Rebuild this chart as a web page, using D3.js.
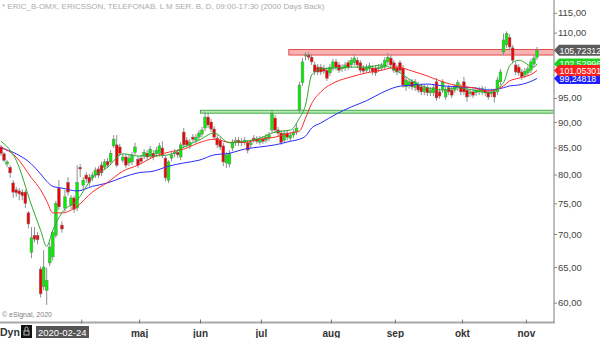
<!DOCTYPE html>
<html>
<head>
<meta charset="utf-8">
<script src="https://cdn.jsdelivr.net/npm/d3@7"></script>
<style>
  body { margin: 0; background: #fff; }
  svg { display: block; font-family: Arial, "Liberation Sans", sans-serif; }
</style>
</head>
<body>
<svg id="chart" width="600" height="338"></svg>
<script>
// daily candles, ERIC B
const opens = [
  85.1, 83.8, 81.9, 81.3, 78.5, 77.3, 77.1, 76.9, 76.9, 73.4,
  67.2, 69.8, 69.8, 64.7, 62.2, 61.7, 65.6, 66.5, 69.8, 77.6,
  71.4, 74.2, 78.6, 74.7, 75.9, 74.2, 81.3, 78.1, 79.9, 79.5,
  79.4, 79.9, 81.0, 81.7, 81.3, 82.4, 82.3, 85.3, 85.5, 85.1,
  82.6, 83.2, 82.1, 82.3, 84.1, 82.8, 83.0, 83.4, 83.9, 83.4,
  83.9, 83.8, 83.9, 84.9, 83.0, 79.0, 83.0, 83.8, 84.1, 83.2,
  88.0, 86.4, 85.3, 87.0, 86.4, 87.0, 87.6, 88.8, 91.0, 90.0,
  88.6, 86.8, 86.4, 85.3, 82.1, 81.9, 84.9, 85.9, 86.4, 86.2,
  86.0, 85.9, 85.5, 86.8, 86.6, 86.0, 86.6, 86.4, 86.8, 88.4,
  90.8, 88.4, 87.8, 86.4, 87.8, 86.8, 87.4, 88.0, 92.5, 98.3,
  104.4, 104.6, 104.1, 102.3, 101.8, 101.8, 101.6, 101.1, 100.5, 101.6,
  103.0, 102.3, 101.4, 101.6, 102.8, 102.3, 102.8, 103.4, 102.8, 101.6,
  101.1, 101.4, 101.6, 101.6, 101.4, 101.6, 101.8, 103.0, 103.9, 102.8,
  101.6, 102.8, 101.6, 97.4, 97.6, 98.5, 97.2, 97.8, 97.4, 96.3,
  97.2, 96.1, 96.1, 98.5, 96.3, 96.7, 95.2, 97.2, 96.7, 96.7,
  97.2, 97.4, 98.5, 96.7, 95.9, 96.3, 96.1, 96.3, 96.3, 96.7,
  96.3, 95.9, 96.3, 96.3, 98.5, 105.3, 107.0, 108.8, 106.3, 102.3,
  101.8, 100.7, 100.0, 100.5, 101.1, 102.5, 104.1
];
const highs = [
  85.5, 84.1, 82.6, 81.7, 79.0, 77.8, 77.6, 77.4, 77.3, 73.7,
  71.1, 71.1, 70.3, 65.1, 67.5, 64.9, 68.7, 70.6, 75.4, 79.0,
  72.0, 77.3, 79.5, 76.4, 76.3, 81.7, 81.9, 79.5, 80.4, 80.1,
  80.4, 81.3, 81.5, 82.3, 82.8, 83.0, 84.5, 87.4, 87.4, 85.7,
  83.8, 83.8, 83.6, 84.1, 85.9, 83.4, 83.6, 84.7, 84.5, 85.3,
  84.5, 85.1, 85.9, 86.2, 83.4, 82.6, 84.1, 84.7, 84.7, 86.0,
  88.8, 87.0, 86.6, 87.6, 87.6, 88.4, 89.0, 92.1, 91.8, 90.6,
  89.2, 87.4, 87.0, 85.9, 84.1, 84.5, 86.6, 87.0, 87.0, 86.8,
  87.0, 86.4, 86.4, 87.4, 87.2, 87.2, 87.2, 87.6, 88.0, 92.5,
  91.4, 89.0, 88.4, 88.4, 88.4, 88.0, 88.6, 89.6, 98.5, 103.9,
  105.3, 105.3, 104.8, 103.0, 102.5, 102.5, 102.3, 101.8, 102.5, 103.7,
  103.7, 103.0, 102.5, 103.0, 103.4, 104.1, 104.6, 104.1, 103.4, 102.3,
  102.5, 102.8, 102.3, 102.3, 102.5, 102.8, 104.1, 105.1, 104.6, 103.4,
  102.3, 103.4, 102.3, 99.6, 99.1, 99.1, 99.1, 98.5, 98.0, 97.8,
  97.8, 97.4, 97.8, 99.3, 97.0, 99.1, 97.4, 97.8, 97.4, 98.0,
  98.9, 98.0, 99.6, 97.4, 97.0, 97.0, 97.4, 97.4, 97.6, 97.4,
  97.0, 97.0, 97.0, 99.6, 101.4, 109.8, 110.3, 109.6, 107.0, 103.0,
  102.5, 101.4, 101.6, 102.1, 103.7, 104.6, 106.5
];
const lows = [
  83.4, 82.3, 81.3, 79.4, 75.9, 76.1, 75.5, 75.5, 74.2, 70.9,
  66.3, 68.7, 68.4, 60.7, 61.7, 59.7, 65.1, 66.0, 69.4, 73.9,
  70.2, 73.6, 76.3, 74.0, 73.4, 73.7, 79.5, 77.4, 78.5, 77.9,
  78.8, 79.4, 79.4, 79.7, 80.8, 81.2, 81.7, 84.9, 81.3, 83.4,
  82.1, 81.2, 81.5, 81.7, 83.6, 81.2, 81.9, 82.8, 82.6, 82.8,
  82.6, 83.2, 83.4, 83.0, 78.8, 78.5, 82.4, 83.2, 83.0, 82.6,
  84.9, 84.9, 84.7, 86.0, 85.9, 86.4, 87.0, 88.2, 88.8, 88.0,
  86.4, 84.9, 84.5, 81.5, 81.2, 81.3, 84.3, 85.3, 85.3, 85.3,
  85.5, 83.9, 84.9, 85.9, 85.7, 85.5, 85.7, 85.9, 86.2, 87.8,
  87.8, 87.2, 85.5, 85.9, 86.4, 86.2, 86.8, 87.4, 91.8, 97.6,
  103.4, 103.4, 102.3, 100.0, 100.0, 100.0, 100.2, 98.7, 99.8, 100.9,
  101.1, 100.5, 100.7, 100.9, 101.1, 101.6, 102.1, 101.6, 100.5, 100.2,
  100.5, 100.7, 100.0, 99.8, 100.7, 100.9, 101.1, 102.3, 101.6, 100.5,
  100.0, 100.5, 97.2, 96.5, 97.0, 96.7, 96.5, 96.1, 95.6, 95.6,
  95.4, 95.4, 95.4, 94.4, 94.8, 96.1, 94.6, 95.6, 95.0, 96.1,
  96.5, 95.6, 95.6, 94.2, 95.2, 95.0, 95.4, 95.6, 95.6, 95.4,
  94.6, 95.2, 94.0, 95.6, 97.8, 104.6, 106.3, 105.8, 102.8, 100.0,
  99.8, 98.9, 99.3, 99.8, 100.5, 101.8, 103.4
];
const closes = [
  83.9, 82.6, 82.3, 80.3, 76.9, 76.8, 76.6, 76.3, 75.0, 71.6,
  69.4, 69.2, 69.1, 61.2, 65.0, 63.1, 68.0, 70.2, 75.0, 74.4,
  70.8, 76.1, 76.9, 75.9, 74.0, 78.6, 81.0, 79.0, 79.2, 78.6,
  79.9, 80.8, 79.9, 80.3, 82.3, 81.7, 83.9, 86.6, 81.7, 83.9,
  83.2, 81.7, 83.0, 83.6, 85.1, 81.7, 82.4, 84.1, 83.2, 84.7,
  83.2, 84.5, 85.3, 83.6, 79.4, 82.3, 83.6, 84.1, 83.6, 85.5,
  85.5, 85.5, 86.0, 86.6, 87.0, 87.8, 88.4, 91.0, 89.4, 88.6,
  87.0, 85.5, 85.1, 82.3, 83.6, 83.9, 86.0, 86.4, 85.9, 85.9,
  86.4, 84.5, 85.9, 86.4, 86.2, 86.6, 86.2, 87.0, 87.4, 91.8,
  88.4, 87.8, 86.0, 87.8, 87.0, 87.4, 88.0, 88.8, 97.8, 103.0,
  104.6, 104.1, 103.0, 100.7, 100.7, 100.7, 100.9, 99.3, 101.8, 103.0,
  101.8, 101.1, 101.8, 102.3, 101.8, 103.4, 103.9, 102.3, 101.1, 100.9,
  101.8, 102.1, 100.7, 100.5, 101.8, 102.1, 103.4, 104.1, 102.3, 101.1,
  100.7, 101.1, 97.8, 98.9, 98.5, 97.4, 98.5, 96.7, 96.3, 97.2,
  96.1, 96.7, 97.2, 95.0, 95.4, 98.5, 96.7, 96.3, 95.6, 97.4,
  98.3, 96.3, 96.3, 95.2, 96.3, 95.6, 96.7, 96.7, 97.0, 96.1,
  95.2, 96.3, 95.2, 98.9, 100.7, 108.2, 109.8, 106.5, 103.4, 100.7,
  100.5, 99.6, 100.9, 101.4, 103.0, 103.9, 105.72312
];

// moving averages, sampled at these bar indices
const maIdx = [0, 5, 10, 13, 15, 17, 20, 25, 30, 35, 40, 45, 50, 55, 60, 65, 70, 75, 80, 85, 90, 95,
  98, 100, 102, 105, 110, 115, 120, 125, 130, 135, 140, 145, 150, 155, 160, 165, 167, 170, 175, 176];
const maFast = [86.2, 82.6, 74.7, 70.6, 68.1, 70.6, 73.4, 75.5, 79.4, 81.3, 83.8, 83.4, 83.4, 83.6, 85.1, 86.4,
  87.8, 85.9, 86.2, 86.8, 88.0, 88.4, 90.8, 93.5, 100.0, 101.4, 101.6, 101.8, 101.8, 102.3, 100.9, 98.7,
  97.2, 96.7, 97.2, 96.7, 96.1, 98.3, 102.1, 103.4, 101.8, 102.52996];
const maMid = [85.1, 83.2, 79.4, 77.3, 75.4, 73.4, 73.4, 74.5, 76.9, 78.6, 80.6, 81.7, 83.2, 84.1, 84.7, 85.9,
  86.6, 86.0, 86.0, 86.6, 87.0, 87.8, 88.2, 90.8, 93.8, 96.3, 98.5, 99.6, 100.5, 101.1, 101.8, 100.9,
  99.8, 98.5, 97.6, 97.2, 96.5, 97.6, 98.7, 99.3, 100.5, 101.05301];
const maSlow = [84.9, 83.8, 81.9, 80.1, 78.8, 77.9, 77.6, 77.1, 77.9, 78.5, 79.5, 80.3, 80.6, 81.5, 82.1, 82.6,
  83.6, 83.9, 84.7, 85.1, 85.5, 86.2, 86.6, 87.2, 88.8, 89.8, 91.6, 93.1, 94.4, 96.1, 97.4, 97.8,
  98.0, 97.6, 97.4, 97.2, 96.7, 97.2, 97.6, 97.8, 98.9, 99.24818];

// 100 and 105 are covered by the value tags in the reference
const priceTicks = [60, 65, 70, 75, 80, 85, 90, 95, 110, 115];
// "apr" sits under the date box, so only its tick is drawn
const tickIdx = [27, 46, 66, 86, 109, 130, 152, 173];
const months = ["maj", "jun", "jul", "aug", "sep", "okt", "nov"];
const monthIdx = [46, 66, 86, 109, 130, 152, 173];

// drawn support / resistance zones
const supportBand = [91.8, 92.4];
const supportFrom = 66;
const resistBand = [104.6, 105.9];
const resistFrom = 95;

const title = "* ERIC_B-OMX, ERICSSON, TELEFONAB. L M SER. B, D, 09:00-17:30 (2000 Days Back)";

const svg = d3.select("#chart");
const N = closes.length;
const axisX = 554, axisY = 322.5;

const x = d3.scaleLinear().domain([0, N - 1]).range([1, 537]);
const y = d3.scaleLog().domain([60, 115]).range([302.7, 12.8]);

svg.append("defs").append("clipPath").attr("id", "plot")
  .append("rect").attr("x", 0).attr("y", 0).attr("width", axisX).attr("height", axisY - 1);

const plot = svg.append("g").attr("clip-path", "url(#plot)");

// zones
function band(vals, from, fill, stroke) {
  plot.append("rect")
    .attr("x", x(from) - 1.5)
    .attr("y", y(vals[1]))
    .attr("width", axisX - x(from) + 1.5)
    .attr("height", y(vals[0]) - y(vals[1]))
    .attr("fill", fill)
    .attr("stroke", stroke)
    .attr("stroke-width", 1);
}
band(supportBand, supportFrom, "#bde8bd", "#3cb043");
band(resistBand, resistFrom, "#f7b3b3", "#e34b4b");

// candles
const candle = plot.append("g").selectAll("g")
  .data(d3.range(N))
  .join("g");

candle.append("line")
  .attr("x1", i => x(i)).attr("x2", i => x(i))
  .attr("y1", i => y(highs[i])).attr("y2", i => y(lows[i]))
  .attr("stroke", "#8f8f8f").attr("stroke-width", 1);

candle.append("rect")
  .attr("x", i => x(i) - 1.4)
  .attr("width", 2.8)
  .attr("y", i => y(Math.max(opens[i], closes[i])))
  .attr("height", i => Math.max(1, Math.abs(y(opens[i]) - y(closes[i]))))
  .attr("fill", i => closes[i] >= opens[i] ? "#00f000" : "#f00000")
  .attr("stroke", "#7d7d7d")
  .attr("stroke-width", 0.5);

// moving averages
const maLine = d3.line()
  .x((d, k) => x(maIdx[k]))
  .y(d => y(d))
  .curve(d3.curveMonotoneX);

[[maSlow, "#2b2bff"], [maMid, "#ff2a2a"], [maFast, "#2ea82e"]].forEach(([vals, col]) => {
  plot.append("path")
    .attr("d", maLine(vals))
    .attr("fill", "none")
    .attr("stroke", col)
    .attr("stroke-width", 1);
});

// axes frame
svg.append("line").attr("x1", 0).attr("x2", axisX + 1).attr("y1", axisY).attr("y2", axisY)
  .attr("stroke", "#a8a8a8").attr("stroke-width", 2);
svg.append("line").attr("x1", axisX).attr("x2", axisX).attr("y1", 0).attr("y2", axisY)
  .attr("stroke", "#a8a8a8").attr("stroke-width", 1.5);

// price axis
const yAxis = svg.append("g")
  .attr("transform", `translate(${axisX},0)`)
  .call(d3.axisRight(y).tickValues(priceTicks).tickSize(3).tickPadding(1)
    .tickFormat(d => d.toFixed(2).replace(".", ",")));
yAxis.select(".domain").remove();
yAxis.selectAll(".tick line").attr("stroke", "#888");
yAxis.selectAll(".tick text").attr("fill", "#444").attr("font-size", 9.5)
  .attr("font-family", "Arial, 'Liberation Sans', sans-serif");

// month axis
const mAxis = svg.append("g");
mAxis.selectAll("line").data(tickIdx).join("line")
  .attr("x1", d => x(d) - 1.5).attr("x2", d => x(d) - 1.5)
  .attr("y1", axisY - 3).attr("y2", axisY + 1)
  .attr("stroke", "#777");
mAxis.selectAll("text").data(months).join("text")
  .attr("x", (d, k) => x(monthIdx[k]) - 1.5)
  .attr("y", 337)
  .attr("text-anchor", "middle")
  .attr("font-size", 10).attr("font-weight", "bold").attr("fill", "#333")
  .text(d => d);

// last value labels
const lastLabels = [
  { v: closes[N - 1], bg: "#5c5c5c", fg: "#fff" },
  { v: maFast[maFast.length - 1], bg: "#1fd11f", fg: "#fff" },
  { v: maSlow[maSlow.length - 1], bg: "#1f1fff", fg: "#fff" },
  { v: maMid[maMid.length - 1], bg: "#ff1f1f", fg: "#fff" }
];
const lab = svg.append("g").selectAll("g").data(lastLabels).join("g")
  .attr("transform", d => `translate(${axisX},${y(d.v)})`);
lab.append("path")
  .attr("d", "M0,0 L5,-5.5 L50,-5.5 L50,5.5 L5,5.5 Z")
  .attr("fill", d => d.bg);
lab.append("text")
  .attr("x", 5.5).attr("y", 3.4)
  .attr("font-size", 8.8).attr("fill", d => d.fg)
  .text(d => d.v.toFixed(5).replace(".", ","));

// title & footer texts
svg.append("text").attr("x", 2).attr("y", 9)
  .attr("font-size", 8).attr("fill", "#ababab").text(title);
svg.append("text").attr("x", 2).attr("y", 317)
  .attr("font-size", 7).attr("fill", "#808080").text("\u00a9 eSignal, 2020");

svg.append("text").attr("x", 0).attr("y", 336)
  .attr("font-size", 10.5).attr("font-weight", "bold").attr("fill", "#333").text("Dyn");
const icon = svg.append("g").attr("transform", "translate(21,325)");
icon.append("rect").attr("width", 11).attr("height", 13).attr("fill", "#111");
icon.append("rect").attr("x", 3).attr("y", 6).attr("width", 5).attr("height", 4)
  .attr("fill", "none").attr("stroke", "#bbb").attr("stroke-width", 1);
icon.append("path").attr("d", "M4,6 V3.5 A1.5,1.5 0 0 1 7,3.5 V6")
  .attr("fill", "none").attr("stroke", "#bbb").attr("stroke-width", 1);
svg.append("rect").attr("x", 36).attr("y", 326).attr("width", 53).attr("height", 12)
  .attr("fill", "#555");
svg.append("text").attr("x", 38).attr("y", 336)
  .attr("font-size", 9.5).attr("fill", "#fff").text("2020-02-24");
</script>
</body>
</html>
